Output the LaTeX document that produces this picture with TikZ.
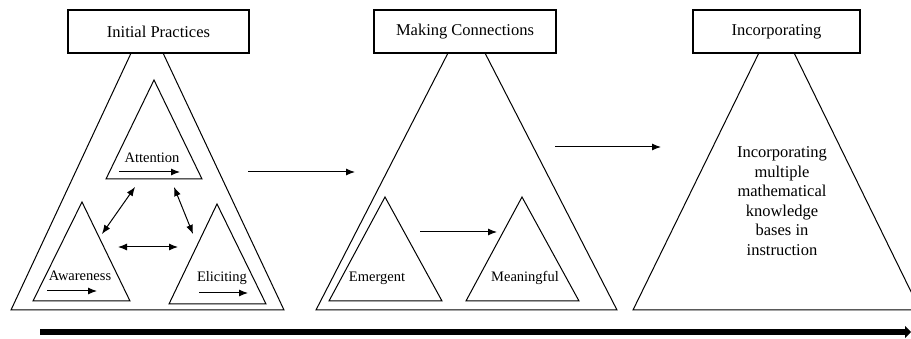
\documentclass[tikz,border=0pt]{standalone}
\usepackage{fontspec}
\setmainfont{Liberation Serif}
\usetikzlibrary{arrows.meta}
\begin{document}
\begin{tikzpicture}[x=1pt,y=-1pt,
  tri/.style={draw=black,line width=1pt,line join=miter},
  titlebox/.style={draw=black,fill=white,line width=1.3pt,minimum width=#1,minimum height=43pt,inner sep=0pt,font=\fontsize{16.5}{19}\selectfont},
  lbl/.style={inner sep=0pt,font=\fontsize{14.5}{17}\selectfont},
  arr/.style={line width=1pt,-{Latex[length=9pt,width=7pt]}},
  darr/.style={line width=1pt,{Latex[length=9pt,width=7pt]}-{Latex[length=9pt,width=7pt]}}]
\useasboundingbox (0,0) rectangle (911,339);
\begin{scope}
\clip (0,0) rectangle (911,339);
% big triangles
\draw[tri] (147,19) -- (284,310) -- (11,310) -- cycle;
\draw[tri] (466.5,17) -- (617,310) -- (316,310) -- cycle;
\draw[tri] (776.5,17) -- (920,310) -- (633,310) -- cycle;
\end{scope}
% title boxes
\node[titlebox=181pt] (t1) at (158.5,31.5) {Initial Practices};
\node[titlebox=182pt] (t2) at (465,31.5) {Making Connections};
\node[titlebox=167pt] (t3) at (776.5,31.5) {Incorporating};
% small triangles
\draw[tri] (154,80) -- (202,179) -- (106,179) -- cycle;
\draw[tri] (82,202) -- (130,301) -- (33,301) -- cycle;
\draw[tri] (217,204) -- (266,304) -- (169,304) -- cycle;
\draw[tri] (385,197) -- (442,301) -- (329,301) -- cycle;
\draw[tri] (522,197) -- (579,301) -- (466,301) -- cycle;
% labels
\node[lbl] (att) at (152,158) {Attention};
\node[lbl] (awa) at (80,276) {Awareness};
\node[lbl] (eli) at (222,278) {Eliciting};
\node[lbl] (eme) at (377,278) {Emergent};
\node[lbl] (mea) at (525,278) {Meaningful};
\node[inner sep=0pt,align=center,font=\fontsize{16.5}{19.5}\selectfont] (inc) at (782,201)
  {Incorporating\\multiple\\mathematical\\knowledge\\bases in\\instruction};
% coordinates for arrows
\coordinate (a1s) at (119,172); \coordinate (a1e) at (180,172);
\coordinate (a2s) at (47,291);  \coordinate (a2e) at (97,291);
\coordinate (a3s) at (199,293); \coordinate (a3e) at (248,293);
\coordinate (d1s) at (135,187); \coordinate (d1e) at (102,234);
\coordinate (d2s) at (174,187); \coordinate (d2e) at (193,234);
\coordinate (d3s) at (118,247); \coordinate (d3e) at (178,247);
\coordinate (m1s) at (420,232); \coordinate (m1e) at (497,232);
\coordinate (p1s) at (248,172); \coordinate (p1e) at (355,172);
\coordinate (p2s) at (555,147); \coordinate (p2e) at (661,147);
\coordinate (bs) at (40,332);   \coordinate (be) at (911,332);
\draw[arr] (a1s) -- (a1e);
\draw[arr] (a2s) -- (a2e);
\draw[arr] (a3s) -- (a3e);
\draw[darr] (d1s) -- (d1e);
\draw[darr] (d2s) -- (d2e);
\draw[darr] (d3s) -- (d3e);
\draw[arr] (m1s) -- (m1e);
\draw[arr] (p1s) -- (p1e);
\draw[arr] (p2s) -- (p2e);
\draw[line width=5pt,-{Triangle[length=6pt,width=12pt]}] (bs) -- (be);
\end{tikzpicture}
\end{document}
